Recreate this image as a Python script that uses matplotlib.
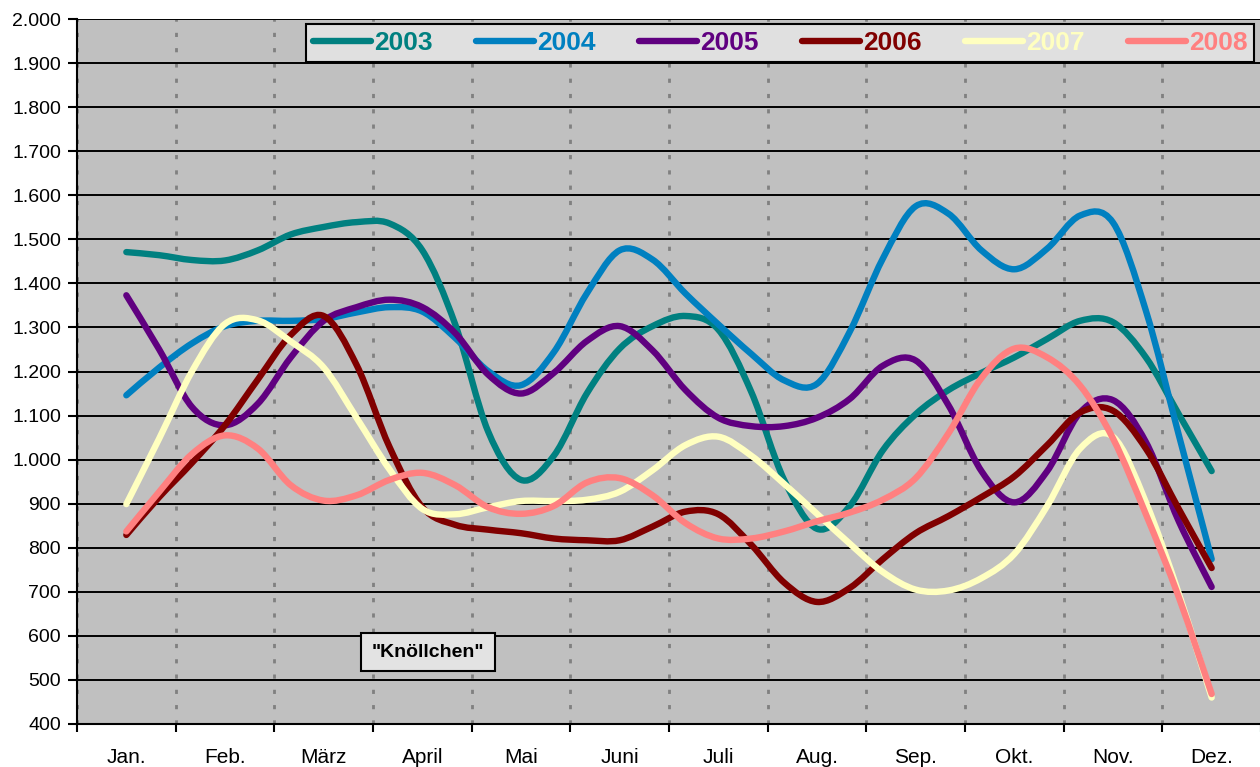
import numpy as np
import matplotlib.pyplot as plt
from matplotlib.path import Path
from matplotlib.patches import PathPatch
from matplotlib.lines import Line2D

plt.rcParams['font.family'] = ['Liberation Sans', 'DejaVu Sans']

months = ['Jan.', 'Feb.', 'März', 'April', 'Mai', 'Juni', 'Juli', 'Aug.',
          'Sep.', 'Okt.', 'Nov.', 'Dez.']
years = ['2003', '2004', '2005', '2006', '2007', '2008']
colors = ['#008080', '#0080C0', '#600080', '#800000', '#FFFFC0', '#FF8080']

# values read every third of a month, from mid-Jan to mid-Dec
v2003 = [1471, 1464, 1453, 1452, 1475, 1511, 1528, 1539, 1536, 1475, 1307, 1064,
         954, 1009, 1150, 1252, 1303, 1326, 1295, 1154, 954, 843, 895, 1021,
         1103, 1158, 1197, 1232, 1274, 1315, 1312, 1232, 1103, 974]
v2004 = [1146, 1209, 1264, 1303, 1315, 1315, 1319, 1334, 1346, 1336, 1276, 1201,
         1169, 1244, 1377, 1475, 1454, 1377, 1307, 1240, 1180, 1172, 1291, 1456,
         1575, 1558, 1475, 1432, 1479, 1554, 1538, 1338, 1056, 774]
v2005 = [1373, 1250, 1119, 1078, 1127, 1232, 1315, 1346, 1363, 1346, 1287, 1193,
         1150, 1197, 1269, 1303, 1248, 1158, 1095, 1076, 1076, 1095, 1138, 1213,
         1225, 1123, 974, 903, 974, 1107, 1135, 1040, 860, 711]
v2006 = [829, 915, 993, 1078, 1182, 1283, 1326, 1215, 1029, 892, 852, 841,
         833, 821, 817, 817, 848, 882, 876, 807, 721, 677, 709, 774,
         833, 872, 915, 962, 1033, 1107, 1111, 1025, 888, 754]
v2007 = [899, 1048, 1201, 1308, 1316, 1268, 1209, 1095, 978, 888, 876, 892,
         906, 906, 909, 927, 976, 1033, 1052, 1009, 945, 877, 809, 745,
         705, 703, 731, 786, 895, 1025, 1052, 903, 696, 460]
v2008 = [837, 927, 1013, 1055, 1025, 942, 907, 919, 954, 970, 942, 892,
         877, 895, 948, 958, 919, 856, 821, 821, 837, 860, 880, 909,
         958, 1060, 1185, 1252, 1232, 1168, 1048, 876, 688, 468]
series = [v2003, v2004, v2005, v2006, v2007, v2008]

x = 0.5 + np.arange(len(v2003)) / 3.0


def smooth_path(xs, ys):
    # Excel-style smoothed line: cubic Bezier through every data point
    p = np.column_stack([xs, ys]).astype(float)
    ext = np.vstack([p[0], p, p[-1]])
    verts = [p[0]]
    codes = [Path.MOVETO]
    for i in range(len(p) - 1):
        c1 = ext[i + 1] + (ext[i + 2] - ext[i]) / 6.0
        c2 = ext[i + 2] - (ext[i + 3] - ext[i + 1]) / 6.0
        verts += [c1, c2, p[i + 1]]
        codes += [Path.CURVE4] * 3
    return Path(verts, codes)


fig = plt.figure(figsize=(12.6, 7.67), dpi=100)
ax = fig.add_axes([77 / 1260, 43 / 767, 1184 / 1260, 705 / 767])
ax.set_facecolor('#C0C0C0')

handles = []
for vals, col, lab in zip(series, colors, years):
    patch = PathPatch(smooth_path(x, vals), fill=False, edgecolor=col, lw=4.6,
                      capstyle='round', joinstyle='round', zorder=2)
    ax.add_patch(patch)
    handles.append(Line2D([], [], color=col, lw=4.6, solid_capstyle='round', label=lab))

ax.set_xlim(0, 12)
ax.set_ylim(400, 2000)

yt = list(range(400, 2001, 100))
ax.set_yticks(yt)
ax.set_yticklabels([f'{v:,}'.replace(',', '.') for v in yt])
ax.set_xticks(range(13))
ax.set_xticklabels([])
ax.set_xticks(np.arange(12) + 0.5, minor=True)
ax.set_xticklabels(months, minor=True)

ax.tick_params(axis='y', length=6.5, width=1.5, pad=5, labelsize=14)
ax.tick_params(axis='x', which='major', length=6, width=1.5)
ax.tick_params(axis='x', which='minor', length=0, pad=17, labelsize=15)

ax.set_axisbelow(True)
ax.yaxis.grid(True, color='black', lw=1.4)
ax.xaxis.grid(True, which='major', color='#808080', lw=2, linestyle=(0, (1.5, 4)))

for s in ['top', 'right']:
    ax.spines[s].set_visible(False)
for s in ['left', 'bottom']:
    ax.spines[s].set_linewidth(1.5)

leg = ax.legend(handles=handles, ncol=6, loc='center', mode='expand',
                bbox_to_anchor=(306 / 1260, 704 / 767, 948 / 1260, 40 / 767),
                bbox_transform=fig.transFigure, borderaxespad=0,
                prop={'weight': 'bold', 'size': 19}, labelcolor='linecolor',
                handlelength=2.2, handletextpad=0.12, columnspacing=1.5,
                fancybox=False, framealpha=1, facecolor='#E0E0E0',
                edgecolor='black', borderpad=0.25)
leg.get_frame().set_linewidth(1.5)

ax.text(0.2965, 0.102, '"Knöllchen"', transform=ax.transAxes, ha='center',
        va='center', fontsize=14, fontweight='bold',
        bbox=dict(boxstyle='square,pad=0.55', fc='#E3E3E3', ec='black', lw=1.5))

fig.savefig('out.png', dpi=100)
